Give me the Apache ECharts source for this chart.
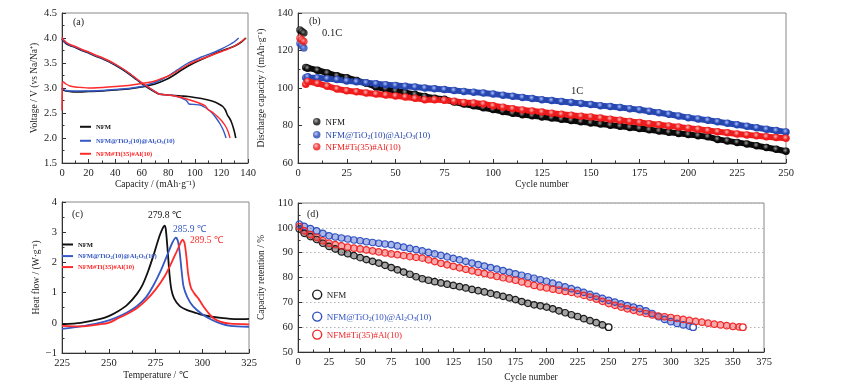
<!DOCTYPE html>
<html><head><meta charset="utf-8">
<script src="https://cdn.jsdelivr.net/npm/echarts@6/dist/echarts.min.js"></script>
<style>html,body{margin:0;padding:0;background:#fff}#c{width:845px;height:388px}</style>
</head><body><div id="c"></div>
<script>
// ---------- panel (a): charge / discharge ----------
const aChgCapNFM = [0,1,3,6,10,20,30,40,50,55,60,65,70,75,80,85,90,95,100,105,110,115,120,125,130,135,138.5];
const aChgVNFM   = [3.0,2.96,2.94,2.93,2.92,2.93,2.94,2.96,2.98,3.0,3.02,3.05,3.08,3.13,3.19,3.27,3.36,3.44,3.51,3.57,3.63,3.69,3.74,3.79,3.84,3.92,4.0];
const aChgCapTi  = [0,1,3,6,10,20,30,40,50,55,60,65,70,75,80,85,90,95,100,105,110,115,120,125,130,133];
const aChgVTi    = [3.0,2.97,2.95,2.94,2.94,2.94,2.95,2.97,2.99,3.01,3.03,3.07,3.11,3.17,3.24,3.33,3.42,3.5,3.56,3.62,3.67,3.72,3.78,3.85,3.93,4.0];
const aChgCapAl  = [0,0.3,1,3,6,10,15,20,30,40,50,55,60,65,70,75,80,85,90,95,100,105,110,115,120,125,130,135,138];
const aChgVAl    = [2.55,3.1,3.12,3.08,3.04,3.02,3.01,3.0,3.01,3.03,3.05,3.07,3.09,3.11,3.14,3.19,3.24,3.31,3.39,3.47,3.53,3.58,3.63,3.68,3.73,3.78,3.84,3.93,4.0];

const aDisCapNFM = [0,1,3,6,10,15,20,25,30,35,40,45,50,55,60,65,70,73,76,80,85,90,95,100,105,110,115,118,121,123,124.5,126,127.5,129,130,130.8];
const aDisVNFM   = [3.98,3.94,3.89,3.85,3.81,3.75,3.7,3.64,3.59,3.53,3.46,3.38,3.29,3.19,3.09,3.0,2.92,2.88,2.87,2.86,2.85,2.84,2.83,2.81,2.79,2.76,2.72,2.68,2.63,2.56,2.46,2.4,2.32,2.2,2.1,2.0];
const aDisCapTi  = [0,1,3,6,10,15,20,25,30,35,40,45,50,55,60,65,70,73,76,80,85,90,93,94.5,95.5,100,104,107,110,113,116,119,121,122.5,123.5];
const aDisVTi    = [4.0,3.95,3.9,3.86,3.82,3.76,3.71,3.65,3.6,3.54,3.47,3.39,3.3,3.2,3.1,3.01,2.93,2.88,2.87,2.86,2.84,2.8,2.76,2.72,2.68,2.67,2.66,2.62,2.57,2.5,2.4,2.28,2.18,2.08,2.0];
const aDisCapAl  = [0,1,3,6,10,15,20,25,30,35,40,45,50,55,60,65,70,73,76,80,85,90,95,100,105,108,109.5,111,114,117,120,123,125,126.5];
const aDisVAl    = [4.02,3.97,3.92,3.87,3.83,3.77,3.72,3.66,3.61,3.55,3.48,3.4,3.31,3.21,3.11,3.02,2.93,2.88,2.87,2.86,2.84,2.81,2.77,2.73,2.68,2.64,2.58,2.55,2.5,2.43,2.35,2.24,2.13,2.0];

// ---------- panel (b): discharge capacity vs cycle ----------
const bCycles = [1,2,3,4,5,10,15,20,25,30,35,40,45,50,55,60,65,70,75,80,85,90,95,100,105,110,115,120,125,130,135,140,145,150,155,160,165,170,175,180,185,190,195,200,205,210,215,220,225,230,235,240,245,250];
const bNFM = [131,130.2,129.3,111,110.5,109.5,108,106.5,105.5,104,102.5,100.5,99.5,98.5,97.5,96.5,95.5,94.5,94,92.5,91.5,90.5,89.5,88.5,87.5,86.5,85.8,85.2,84.6,84,83.3,82.7,82,81.4,80.8,80.2,79.6,79,78.4,77.7,77.1,76.4,75.8,75.2,74.6,74,72.6,71.8,71,70.2,69.2,68.3,67.3,66.3];
const bTi  = [123.8,122.5,121.3,105.5,106,105.5,105,104.5,103.8,103.3,102.8,102.3,101.8,101.4,100.9,100.5,100,99.6,99.2,98.7,98.2,97.8,97.3,96.8,96.2,95.6,95,94.4,93.8,93.3,92.8,92.3,91.8,91.2,90.6,90.1,89.6,89,88.4,87.6,86.8,86,85.1,84.2,83.5,82.8,82,81.2,80.4,79.6,78.8,78,77.3,76.6];
const bAl  = [126.5,125.6,124.8,102,103.5,102.5,101,99.5,98.5,98,97.3,96.8,96.3,95.8,95.2,94.5,93.8,93.8,93.5,93,92.3,92,91.5,90.5,89.8,89,88.3,87.7,87.2,86.6,86,85.5,85,84.6,84,83.4,82.8,82.2,81.6,81,80.4,79.8,79.2,78.6,78,77.3,76.7,76.1,75.5,75,74.5,74,73.6,73.2];
const bSlowCount = 3; // first cycles at 0.1C

// ---------- panel (c): DSC ----------
const cTNFM = [225,235,245,250,255,260,265,268,271,274,277,279,279.8,280.5,281.5,282.5,283.5,285,288,292,296,300,305,310,315,320,325];
const cHNFM = [-0.05,0.0,0.12,0.22,0.38,0.6,0.95,1.25,1.7,2.25,2.85,3.15,3.22,3.1,2.4,1.6,1.1,0.8,0.55,0.42,0.34,0.26,0.2,0.16,0.13,0.12,0.13];
const cTTi  = [225,235,245,250,255,260,265,270,274,278,281,284,285.9,287,288,289,290,292,295,300,305,310,315,325];
const cHTi  = [-0.2,-0.12,0.0,0.08,0.2,0.35,0.55,0.85,1.25,1.75,2.2,2.65,2.82,2.7,2.3,1.7,1.2,0.85,0.55,0.28,0.1,-0.03,-0.1,-0.13];
const cTAl  = [225,235,245,250,255,260,265,270,275,280,284,287,289.5,290.5,291.5,292.5,294,296,298,300,303,306,310,315,325];
const cHAl  = [-0.1,-0.12,-0.05,0.0,0.15,0.3,0.48,0.75,1.1,1.55,2.05,2.45,2.75,2.65,2.2,1.6,1.15,0.95,0.8,0.6,0.35,0.15,0.03,-0.03,-0.05];
const cPeakLabels = ['279.8 ℃','285.9 ℃','289.5 ℃'];

// ---------- panel (d): capacity retention ----------
const dCycNFM = [1,5,10,15,20,25,30,35,40,45,50,55,60,65,70,75,80,85,90,95,100,105,110,115,120,125,130,135,140,145,150,155,160,165,170,175,180,185,190,195,200,205,210,215,220,225,230,235,240,245,250];
const dNFM = [99.5,97.8,96.5,95.3,93.8,92.5,91.5,90.3,89.6,88.8,88,87.2,86.5,85.8,84.9,84,83.1,82.2,81.3,80.3,79.5,78.9,78.3,77.8,77.3,76.8,76.3,75.8,75.2,74.7,74.2,73.6,73,72.4,71.8,71.1,70.3,69.6,69,68.6,68.1,67.4,66.6,65.8,65,64.3,63.4,62.6,61.8,60.9,60];
const dCycTi = [1,5,10,15,20,25,30,35,40,45,50,55,60,65,70,75,80,85,90,95,100,105,110,115,120,125,130,135,140,145,150,155,160,165,170,175,180,185,190,195,200,205,210,215,220,225,230,235,240,245,250,255,260,265,270,275,280,285,290,295,300,305,310,315,318];
const dTi = [101.5,100.6,99.7,98.8,97.8,96.8,96.3,95.9,95.5,95.1,94.8,94.4,94.1,93.8,93.5,93.2,92.7,92.2,91.7,91.2,90.7,90.1,89.5,88.9,88.3,87.7,87.1,86.5,85.8,85.2,84.6,84,83.4,82.8,82.1,81.5,80.9,80.3,79.7,79.1,78.5,77.7,76.9,76.2,75.5,74.8,74,73.2,72.4,71.6,70.8,70.1,69.4,68.7,68.1,67.5,66.6,65.5,64.2,63.1,62.2,61.5,60.9,60.4,60];
const dCycAl = [1,5,10,15,20,25,30,35,40,45,50,55,60,65,70,75,80,85,90,95,100,105,110,115,120,125,130,135,140,145,150,155,160,165,170,175,180,185,190,195,200,205,210,215,220,225,230,235,240,245,250,255,260,265,270,275,280,285,290,295,300,305,310,315,320,325,330,335,340,345,350,355,358];
const dAl = [100.5,98.8,97.3,96.2,94.8,93.8,93.2,92.7,92.2,91.8,91.5,91.1,90.7,90.3,89.9,89.5,89.2,88.8,88.4,88.1,87.8,87.1,86.4,85.7,85.1,84.5,83.9,83.3,82.7,82.1,81.6,81,80.4,79.9,79.4,78.9,78.2,77.5,76.8,76.2,75.8,75.3,74.9,74.4,74,73.4,72.8,72.1,71.3,70.4,69.5,68.8,68.1,67.4,66.8,66.1,65.5,64.9,64.5,64.2,63.9,63.5,63.1,62.7,62.3,62,61.6,61.2,60.9,60.6,60.3,60.1,60];

// ---------- legend labels (rich text: n = normal, s = subscript) ----------
const LABEL = {
  NFM: '{n|NFM}',
  TI: '{n|NFM@TiO}{s|2}{n|(10)@Al}{s|2}{n|O}{s|3}{n|(10)}',
  AL: '{n|NFM#Ti(35)#Al(10)}'
};

// ---------- styling ----------
const FONT = "'Liberation Serif','Times New Roman',serif";
const K = '#111111', BL = '#3558c4', RD = '#ff2a2a';

const zip = (xs, ys) => xs.map((x, i) => [x, ys[i]]);

function axis(extra) {
  return Object.assign({
    axisLine: {show: true, onZero: false, lineStyle: {color: '#333', width: 1}},
    axisTick: {show: true, inside: true, length: 4, lineStyle: {color: '#333'}},
    minorTick: {show: true, splitNumber: 2, length: 2.5, lineStyle: {color: '#333'}},
    axisLabel: {color: '#222', fontFamily: FONT, fontSize: 10.5, margin: 5},
    splitLine: {show: false},
    nameLocation: 'middle',
    nameTextStyle: {color: '#222', fontFamily: FONT, fontSize: 9.5}
  }, extra);
}

const grids = [
  {left: 62, top: 13, width: 186, height: 150},
  {left: 298, top: 13, width: 488, height: 150},
  {left: 62, top: 202, width: 187, height: 151},
  {left: 298, top: 203, width: 466, height: 149}
].map(g => Object.assign(g, {show: true, borderColor: '#888', borderWidth: 1, containLabel: false}));

const xAxes = [
  axis({gridIndex: 0, type: 'value', min: 0, max: 140, interval: 20, name: 'Capacity / (mAh·g⁻¹)', nameGap: 16}),
  axis({gridIndex: 1, type: 'value', min: 0, max: 250, interval: 25, name: 'Cycle number', nameGap: 16}),
  axis({gridIndex: 2, type: 'value', min: 225, max: 325, interval: 25, name: 'Temperature / ℃', nameGap: 17}),
  axis({gridIndex: 3, type: 'value', min: 0, max: 375, interval: 25, name: 'Cycle number', nameGap: 20})
];
const yAxes = [
  axis({gridIndex: 0, type: 'value', min: 1.5, max: 4.5, interval: 0.5, name: 'Voltage / V (vs Na/Na⁺)', nameGap: 22,
        axisLabel: {color: '#222', fontFamily: FONT, fontSize: 10.5, margin: 5, formatter: v => v.toFixed(1)}}),
  axis({gridIndex: 1, type: 'value', min: 60, max: 140, interval: 20, name: 'Discharge capacity / (mAh·g⁻¹)', nameGap: 24}),
  axis({gridIndex: 2, type: 'value', min: -1, max: 4, interval: 1, name: 'Heat flow / (W·g⁻¹)', nameGap: 17,
        axisLabel: {color: '#222', fontFamily: FONT, fontSize: 10.5, margin: 5, formatter: v => String(v).replace('-', '−')}}),
  axis({gridIndex: 3, type: 'value', min: 50, max: 110, interval: 10, name: 'Capacity retention / %', nameGap: 24,
        splitLine: {show: true, lineStyle: {type: [1.5, 2.5], color: '#b0b0b0', width: 1}}})
];

function lineS(name, xi, data, color, width, smooth) {
  return {name, type: 'line', xAxisIndex: xi, yAxisIndex: xi, data, showSymbol: false, symbol: 'none',
          smooth: smooth, lineStyle: {color, width}, itemStyle: {color}, z: 3};
}
function ball(light, dark) {
  return {type: 'radial', x: 0.4, y: 0.38, r: 0.62,
          colorStops: [{offset: 0, color: light}, {offset: 0.6, color: dark}, {offset: 1, color: dark}]};
}
function bSeries(name, vals, light, dark) {
  const pts = zip(bCycles, vals);
  return [
    {name, type: 'scatter', xAxisIndex: 1, yAxisIndex: 1, data: pts.slice(0, bSlowCount), symbolSize: 7.5,
     itemStyle: {color: ball(light, dark)}},
    {name, type: 'line', xAxisIndex: 1, yAxisIndex: 1, data: pts.slice(bSlowCount), symbol: 'circle', symbolSize: 7.5,
     showAllSymbol: true, lineStyle: {color: dark, width: 6}, itemStyle: {color: ball(light, dark)}}
  ];
}
function dSeries(name, xs, ys, color) {
  const pts = zip(xs, ys).map((p, i, arr) => i === arr.length - 1
     ? {value: p, itemStyle: {color: '#fff', borderColor: color, borderWidth: 1.4}} : p);
  return {name, type: 'line', xAxisIndex: 3, yAxisIndex: 3, data: pts, symbol: 'circle', symbolSize: 6.5,
          showAllSymbol: true, lineStyle: {color, width: 6, opacity: 0.4},
          itemStyle: {color: 'rgba(255,255,255,0)', borderColor: color, borderWidth: 1.2}};
}

const series = [
  // (a)
  lineS('aNFM', 0, zip(aChgCapNFM, aChgVNFM), K, 1.6, 0.2),
  lineS('aNFM', 0, zip(aDisCapNFM, aDisVNFM), K, 1.6, 0.2),
  lineS('aTI', 0, zip(aChgCapTi, aChgVTi), BL, 1.4, 0.2),
  lineS('aTI', 0, zip(aDisCapTi, aDisVTi), BL, 1.4, 0.2),
  lineS('aAL', 0, zip(aChgCapAl, aChgVAl), RD, 1.4, 0.2),
  lineS('aAL', 0, zip(aDisCapAl, aDisVAl), RD, 1.4, 0.2),
  // (b)
  ...bSeries('bNFM', bNFM, '#9a9a9a', '#0a0a0a'),
  ...bSeries('bTI', bTi, '#a9bcff', '#2747b0'),
  ...bSeries('bAL', bAl, '#ffb3b3', '#ee1c1c'),
  // (c)
  lineS('cNFM', 2, zip(cTNFM, cHNFM), K, 1.8, 0.25),
  lineS('cTI', 2, zip(cTTi, cHTi), BL, 1.8, 0.25),
  lineS('cAL', 2, zip(cTAl, cHAl), RD, 1.8, 0.25),
  // (d)
  dSeries('dNFM', dCycNFM, dNFM, '#1a1a1a'),
  dSeries('dTI', dCycTi, dTi, '#3050c0'),
  dSeries('dAL', dCycAl, dAl, '#f02828')
];

function rich(color, f, bold) {
  const w = bold ? 'bold' : 'normal';
  return {
    n: {color, fontFamily: FONT, fontSize: f, fontWeight: w, lineHeight: f * 1.25, verticalAlign: 'bottom'},
    s: {color, fontFamily: FONT, fontSize: f * 0.66, fontWeight: w, lineHeight: f * 0.95, verticalAlign: 'bottom'}
  };
}
function leg(name, key, color, left, cy, kind) {
  const base = {left, selectedMode: false, padding: 0, itemGap: 0, orient: 'vertical',
                formatter: () => LABEL[key]};
  if (kind === 'line') {
    const f = 6.6;
    return Object.assign(base, {top: cy - f * 0.62, itemWidth: 11, itemHeight: 2, itemTextGap: 2,
      textStyle: {fontFamily: FONT, fontSize: f, fontWeight: 'bold', color, rich: rich(color, f, true)},
      data: [{name, icon: 'rect', itemStyle: {color}}]});
  }
  const f = 9;
  if (kind === 'ball') {
    return Object.assign(base, {top: cy - f * 0.62, itemWidth: 7.5, itemHeight: 7.5, itemTextGap: 4,
      textStyle: {fontFamily: FONT, fontSize: f, color, rich: rich(color, f, false)},
      data: [{name, icon: 'circle'}]});
  }
  return Object.assign(base, {top: cy - f * 0.62, itemWidth: 9, itemHeight: 9, itemTextGap: 4,
      textStyle: {fontFamily: FONT, fontSize: f, color, rich: rich(color, f, false)},
      data: [{name, icon: 'circle', itemStyle: {color: '#fff', borderColor: color, borderWidth: 1.4}}]});
}

const legends = [
  leg('aNFM', 'NFM', K, 80, 128, 'line'),
  leg('aTI', 'TI', BL, 80, 142, 'line'),
  leg('aAL', 'AL', RD, 80, 155, 'line'),
  leg('bNFM', 'NFM', '#111', 313, 123.5, 'ball'),
  leg('bTI', 'TI', '#2747b0', 313, 136.5, 'ball'),
  leg('bAL', 'AL', '#ee1c1c', 313, 148.5, 'ball'),
  leg('cNFM', 'NFM', K, 62, 245.7, 'line'),
  leg('cTI', 'TI', BL, 62, 257.3, 'line'),
  leg('cAL', 'AL', RD, 62, 268.3, 'line'),
  leg('dNFM', 'NFM', '#1a1a1a', 312, 295, 'ring'),
  leg('dTI', 'TI', '#3050c0', 312, 317, 'ring'),
  leg('dAL', 'AL', '#f02828', 312, 335, 'ring')
];

function txt(text, left, top, size, color) {
  return {type: 'text', left, top, z: 10, style: {text, font: `${size}px ${FONT}`, fill: color}};
}
const graphic = [
  txt('(a)', 73, 17, 10, '#222'),
  txt('(b)', 309, 16, 10, '#222'),
  txt('(c)', 72, 209, 10, '#222'),
  txt('(d)', 307, 209, 10, '#222'),
  txt('0.1C', 322, 28, 10.5, '#222'),
  txt('1C', 571, 86, 10.5, '#222'),
  txt(cPeakLabels[0], 148, 210, 9.5, '#111'),
  txt(cPeakLabels[1], 173, 224.5, 9.5, BL),
  txt(cPeakLabels[2], 190, 235.5, 9.5, RD)
];

const chart = echarts.init(document.getElementById('c'), null, {renderer: 'canvas'});
chart.setOption({
  animation: false,
  backgroundColor: '#fff',
  grid: grids, xAxis: xAxes, yAxis: yAxes, series, legend: legends, graphic
});
</script></body></html>
